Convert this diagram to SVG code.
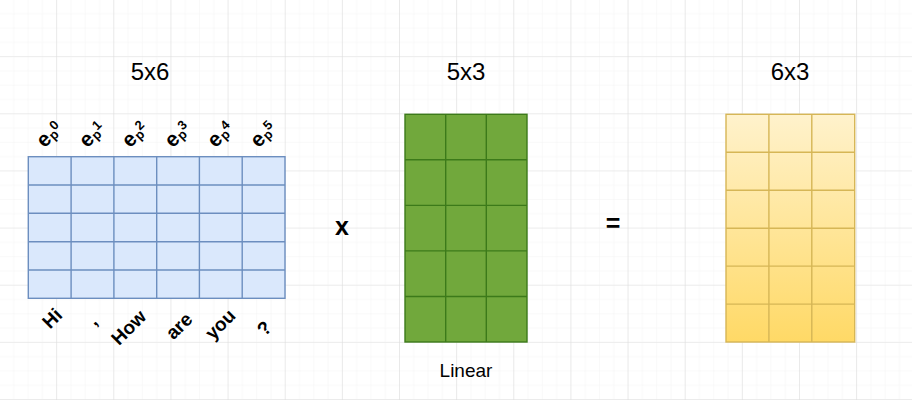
<svg xmlns="http://www.w3.org/2000/svg" width="912" height="400" viewBox="0 0 912 400">
  <defs>
    <pattern id="minor" width="14.285" height="14.285" patternUnits="userSpaceOnUse">
      <path d="M14.285 0V14.285M0 14.285H14.285" fill="none" stroke="#f3f3f3" stroke-width="1"/>
    </pattern>
    <pattern id="major" width="57.14" height="57.14" patternUnits="userSpaceOnUse">
      <rect width="57.14" height="57.14" fill="url(#minor)"/>
      <path d="M57.14 0V57.14M0 57.14H57.14" fill="none" stroke="#dedede" stroke-width="1.2"/>
    </pattern>
    <linearGradient id="yel" x1="0" y1="0" x2="0" y2="1">
      <stop offset="0" stop-color="#fff2cc"/>
      <stop offset="1" stop-color="#ffd966"/>
    </linearGradient>
  </defs>
  <style>
    text { font-family: "Liberation Sans", Arial, sans-serif; fill: #000; }
    .title { font-size: 24px; text-anchor: middle; }
    .op { font-size: 25px; font-weight: bold; text-anchor: middle; }
    .lab { font-size: 19px; text-anchor: middle; }
    .word { font-size: 19px; font-weight: bold; text-anchor: middle; }
    .e { font-size: 21px; font-weight: bold; text-anchor: middle; }
    .s { font-size: 13px; font-weight: bold; text-anchor: middle; }
    .blue { fill: #dae8fc; stroke: #6c8ebf; stroke-width: 1.4; }
    .blue-l { stroke: #6c8ebf; stroke-width: 1.4; fill: none; }
    .green { fill: #71a83c; stroke: #3c7a1a; stroke-width: 1.4; }
    .green-l { stroke: #3c7a1a; stroke-width: 1.4; fill: none; }
    .yellow { fill: url(#yel); stroke: #d6b656; stroke-width: 1.4; }
    .yellow-l { stroke: #d6b656; stroke-width: 1.4; fill: none; }
  </style>
  <rect width="912" height="400" fill="#ffffff"/>
  <rect x="-1" y="0" width="914" height="400" fill="url(#major)"/>

  <g id="connectors"/>

  <g id="matrix-input">
    <rect class="blue" x="28.3" y="156.7" width="256.7" height="141.6"/>
    <path class="blue-l" d="M71.1 156.7V298.3M113.9 156.7V298.3M156.7 156.7V298.3M199.4 156.7V298.3M242.2 156.7V298.3M28.3 185H285M28.3 213.3H285M28.3 241.7H285M28.3 270H285"/>
    <text class="title" x="150" y="80">5x6</text>
  </g>

  <g id="pos-labels">
    <g transform="translate(45,140) rotate(-45)"><text class="e" x="-0.5" y="5.6">e</text><text class="s" x="9.8" y="7">p</text><text class="s" x="16.8" y="0.2">0</text></g>
    <g transform="translate(87.8,140) rotate(-45)"><text class="e" x="-0.5" y="5.6">e</text><text class="s" x="9.8" y="7">p</text><text class="s" x="16.8" y="0.2">1</text></g>
    <g transform="translate(130.6,140) rotate(-45)"><text class="e" x="-0.5" y="5.6">e</text><text class="s" x="9.8" y="7">p</text><text class="s" x="16.8" y="0.2">2</text></g>
    <g transform="translate(173.3,140) rotate(-45)"><text class="e" x="-0.5" y="5.6">e</text><text class="s" x="9.8" y="7">p</text><text class="s" x="16.8" y="0.2">3</text></g>
    <g transform="translate(216.1,140) rotate(-45)"><text class="e" x="-0.5" y="5.6">e</text><text class="s" x="9.8" y="7">p</text><text class="s" x="16.8" y="0.2">4</text></g>
    <g transform="translate(258.9,140) rotate(-45)"><text class="e" x="-0.5" y="5.6">e</text><text class="s" x="9.8" y="7">p</text><text class="s" x="16.8" y="0.2">5</text></g>
  </g>

  <g id="word-labels">
    <text class="word" transform="translate(51.7,318) rotate(-45)" x="0" y="7">Hi</text>
    <text class="word" transform="translate(96.7,324.7) rotate(-45)" x="0" y="0">,</text>
    <text class="word" transform="translate(128.3,327) rotate(-45)" x="0" y="7">How</text>
    <text class="word" transform="translate(180,327) rotate(-45)" x="0" y="5">are</text>
    <text class="word" transform="translate(222,326) rotate(-45)" x="0" y="4">you</text>
    <text class="word" transform="translate(264,328) rotate(-45)" x="0" y="7">?</text>
  </g>

  <g id="op-times">
    <text class="op" x="342" y="235">x</text>
  </g>

  <g id="matrix-linear">
    <rect class="green" x="405" y="114.3" width="122" height="227.7"/>
    <path class="green-l" d="M445.7 114.3V342M486.3 114.3V342M405 159.8H527M405 205.4H527M405 250.9H527M405 296.5H527"/>
    <text class="title" x="466" y="80">5x3</text>
    <text class="lab" x="466" y="377">Linear</text>
  </g>

  <g id="op-equals">
    <text class="op" x="613" y="232">=</text>
  </g>

  <g id="matrix-output">
    <rect class="yellow" x="726" y="114.3" width="128.7" height="227.7"/>
    <path class="yellow-l" d="M768.9 114.3V342M811.8 114.3V342M726 152.3H854.7M726 190.2H854.7M726 228.2H854.7M726 266.1H854.7M726 304.1H854.7"/>
    <text class="title" x="790" y="80">6x3</text>
  </g>
</svg>
